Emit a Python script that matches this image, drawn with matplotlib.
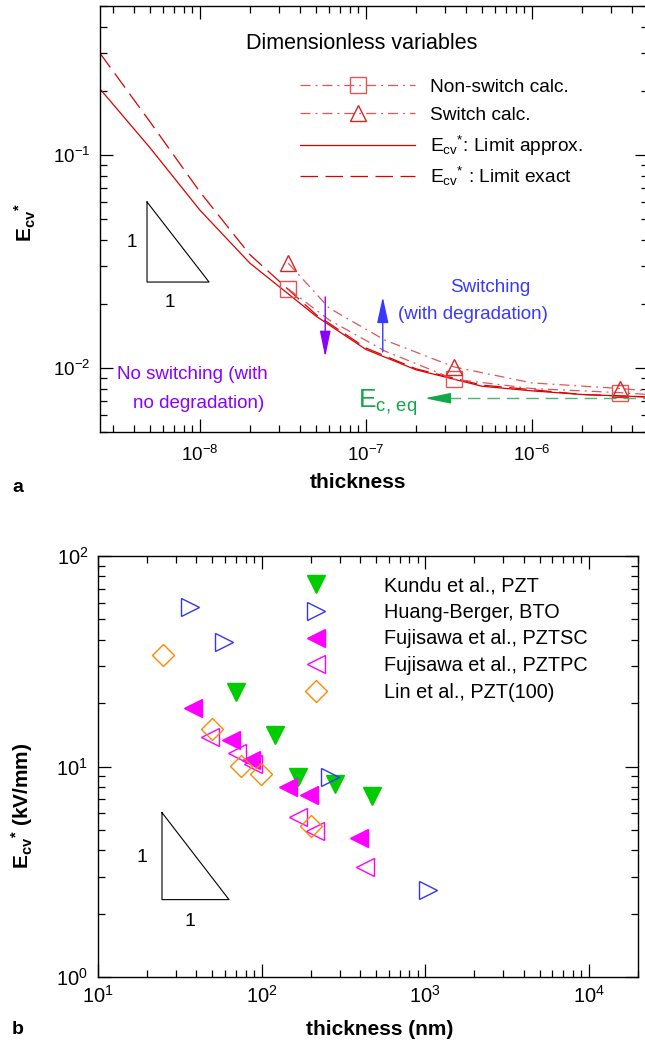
import matplotlib
matplotlib.use('Agg')
import matplotlib.pyplot as plt
from matplotlib.lines import Line2D
from matplotlib.legend import Legend
import matplotlib.ticker as mticker

plt.rcParams['font.family'] = ['Liberation Sans', 'DejaVu Sans']
plt.rcParams['mathtext.fontset'] = 'custom'
plt.rcParams['mathtext.rm'] = 'Liberation Sans'
plt.rcParams['mathtext.it'] = 'Liberation Sans:italic'
plt.rcParams['mathtext.bf'] = 'Liberation Sans:bold'
plt.rcParams['mathtext.default'] = 'regular'

# ---------------- data: panel a (dimensionless) ----------------
thick_model = [2.5e-9, 5e-9, 1e-8, 2e-8, 5e-8, 1e-7, 2e-7, 5e-7, 1e-6, 2e-6, 5e-6]
limit_approx = [0.204, 0.108, 0.055, 0.031, 0.0175, 0.0122, 0.0098, 0.0082, 0.0078, 0.0075, 0.0073]
limit_exact = [0.300, 0.143, 0.067, 0.034, 0.0178, 0.0124, 0.0099, 0.0083, 0.0079, 0.0075, 0.0073]

thick_calc = [3.4e-8, 6e-8, 1.3e-7, 3.4e-7, 1e-6, 3.4e-6, 5e-6]
nonswitch_calc = [0.0235, 0.0168, 0.0120, 0.00885, 0.0080, 0.00765, 0.0075]
switch_calc = [0.0310, 0.0191, 0.0135, 0.0101, 0.0085, 0.0080, 0.0078]
calc_marker_idx = [0, 3, 5]

ec_eq = 0.0072
ec_eq_arrow_x = [2.26e-7, 3.1e-7, 5e-6]

# ---------------- data: panel b (experiments) ----------------
kundu_t = [70, 120, 168, 280, 471]
kundu_e = [22.7, 14.1, 8.87, 8.3, 7.28]
huang_t = [36.5, 59.2, 261, 1040]
huang_e = [57.4, 39.1, 8.87, 2.60]
fsc_t = [38.2, 65, 85.7, 146, 195, 392]
fsc_e = [19.0, 13.3, 10.7, 8.0, 7.33, 4.59]
fpc_t = [48.6, 70.8, 89.2, 166, 212, 427]
fpc_e = [13.8, 11.6, 10.3, 5.73, 4.93, 3.32]
lin_t = [25.1, 50.1, 75, 99.6, 200]
lin_e = [33.9, 15.1, 10.1, 9.2, 5.24]

W, H = 645, 1047
fig = plt.figure(figsize=(W / 100, H / 100), dpi=100)


def px_axes(l, t, r, b):
    return [l / W, 1 - b / H, (r - l) / W, (b - t) / H]


def style_axes(ax, xpad, ypad, lsize):
    ax.tick_params(which='both', direction='in', top=True, right=True, width=0.9,
                   labelsize=lsize)
    ax.tick_params(which='major', length=9.5)
    ax.tick_params(which='minor', length=5)
    ax.tick_params(axis='x', pad=xpad)
    ax.tick_params(axis='y', pad=ypad)
    for s in ax.spines.values():
        s.set_linewidth(1.0)
    ax.xaxis.set_minor_formatter(mticker.NullFormatter())
    ax.yaxis.set_minor_formatter(mticker.NullFormatter())


red = '#dd0000'
red_light = '#e25555'
blue = '#3838ff'
purple = '#8a00ff'
green = '#10a848'
green_light = '#40bb70'

# ---------------- panel a ----------------
ax1 = fig.add_axes(px_axes(100, 6, 648, 432))
ax1.set_xscale('log')
ax1.set_yscale('log')
ax1.set_xlim(2.5e-9, 5e-6)
ax1.set_ylim(0.005, 0.5)
style_axes(ax1, 9, 7, 13.5)

dashdot = (8, 4, 1.5, 4)
ax1.plot(thick_model, limit_approx, color=red, lw=0.9)
ax1.plot(thick_model, limit_exact, color=red, lw=0.9, dashes=(14, 6))
ax1.plot(thick_calc, nonswitch_calc, color=red_light, lw=0.9, dashes=dashdot,
         marker='s', ms=12, mfc='none', mec=red_light, mew=1.0, markevery=calc_marker_idx)
ax1.plot(thick_calc, switch_calc, color=red_light, lw=0.9, dashes=dashdot,
         marker='^', ms=12, mfc='none', mec='#dd2222', mew=1.0, markevery=calc_marker_idx)

# E_c,eq arrow
ax1.plot(ec_eq_arrow_x[1:], [ec_eq, ec_eq], color=green_light, lw=1.0, dashes=(9, 5))
ax1.annotate('', xy=(ec_eq_arrow_x[0], ec_eq), xytext=(ec_eq_arrow_x[1], ec_eq),
             arrowprops=dict(arrowstyle='-|>,head_length=1.6,head_width=0.33',
                             color=green, lw=1.0, shrinkA=0, shrinkB=0))
ax1.text(0.471, 0.0563, r'E$_{\mathrm{c,\,eq}}$', transform=ax1.transAxes,
         color=green, fontsize=19, ha='left', va='baseline')

# switching annotations
ax1.annotate('', xy=(0.516, 0.317), xytext=(0.516, 0.188), xycoords='axes fraction',
             arrowprops=dict(arrowstyle='-|>,head_length=1.6,head_width=0.35',
                             color=blue, lw=1.0, shrinkA=0, shrinkB=0))
ax1.annotate('', xy=(0.411, 0.176), xytext=(0.411, 0.317), xycoords='axes fraction',
             arrowprops=dict(arrowstyle='-|>,head_length=1.6,head_width=0.33',
                             color=purple, lw=1.0, shrinkA=0, shrinkB=0))
ax1.text(0.713, 0.340, 'Switching', transform=ax1.transAxes, color=blue,
         fontsize=13.5, ha='center', va='center')
ax1.text(0.681, 0.275, '(with degradation)', transform=ax1.transAxes, color=blue,
         fontsize=13.5, ha='center', va='center')
ax1.text(0.031, 0.134, 'No switching (with', transform=ax1.transAxes, color=purple,
         fontsize=13.5, ha='left', va='center')
ax1.text(0.060, 0.066, 'no degradation)', transform=ax1.transAxes, color=purple,
         fontsize=13.5, ha='left', va='center')

# slope triangle
ax1.plot([0.0858, 0.0858, 0.199, 0.0858], [0.540, 0.352, 0.352, 0.540],
         transform=ax1.transAxes, color='black', lw=0.8)
ax1.text(0.058, 0.444, '1', transform=ax1.transAxes, fontsize=13.5, ha='center', va='center')
ax1.text(0.128, 0.305, '1', transform=ax1.transAxes, fontsize=13.5, ha='center', va='center')

# legend (one row per entry for exact row placement)
ax1.text(0.478, 0.911, 'Dimensionless variables', transform=ax1.transAxes,
         fontsize=15.5, ha='center', va='center')
h1 = [
    Line2D([], [], color=red_light, lw=0.9, dashes=dashdot, marker='s', ms=12,
           mfc='none', mec=red_light, mew=1.0),
    Line2D([], [], color=red_light, lw=0.9, dashes=dashdot, marker='^', ms=12,
           mfc='none', mec='#dd2222', mew=1.0),
    Line2D([], [], color=red, lw=0.9),
    Line2D([], [], color=red, lw=0.9, dashes=(14, 6)),
]
l1 = ['Non-switch calc.', 'Switch calc.',
      r'E$_{\mathrm{cv}}$$^{*}$: Limit approx.', r'E$_{\mathrm{cv}}$$^{*}$ : Limit exact']
row_y = [87, 115, 146, 176]
for h, l, y in zip(h1, l1, row_y):
    leg = Legend(ax1, [h], [l], loc='center left', bbox_to_anchor=(300 / W, 1 - y / H),
                 bbox_transform=fig.transFigure, frameon=False, fontsize=13.8,
                 handlelength=6.0, handletextpad=0.8,
                 borderpad=0, borderaxespad=0, numpoints=1)
    ax1.add_artist(leg)

ax1.set_xlabel('thickness', fontsize=15, fontweight='bold', va='top')
ax1.xaxis.set_label_coords(0.471, -0.096)
ax1.set_ylabel(r'$\mathbf{E}_{\mathbf{cv}}$$^{\mathbf{*}}$', fontsize=15,
               va='center', ha='center')
ax1.yaxis.set_label_coords(-0.137, 0.491)

# ---------------- panel b ----------------
ax2 = fig.add_axes(px_axes(98, 556, 638, 977))
ax2.set_xscale('log')
ax2.set_yscale('log')
ax2.set_xlim(10, 2e4)
ax2.set_ylim(1, 100)
style_axes(ax2, 6, 7, 14.5)

ms_t = 13
ax2.plot(kundu_t, kundu_e, ls='none', marker='v', ms=ms_t, color='#00cc00',
         label='Kundu et al., PZT')
ax2.plot(huang_t, huang_e, ls='none', marker='>', ms=ms_t, mfc='none', mec='#3333ff',
         mew=1.0, label='Huang-Berger, BTO')
ax2.plot(fsc_t, fsc_e, ls='none', marker='<', ms=ms_t, color='#ff00ff',
         label='Fujisawa et al., PZTSC')
ax2.plot(fpc_t, fpc_e, ls='none', marker='<', ms=ms_t, mfc='none', mec='#ff00ff',
         mew=1.0, label='Fujisawa et al., PZTPC')
ax2.plot(lin_t, lin_e, ls='none', marker='D', ms=11.5, mfc='none', mec='#ff8800',
         mew=1.0, label='Lin et al., PZT(100)')

ax2.legend(loc='upper left', bbox_to_anchor=(296 / W, 1 - 576 / H),
           bbox_transform=fig.transFigure, frameon=False, fontsize=14.3,
           handlelength=2.0, handletextpad=2.45, labelspacing=0.39,
           borderpad=0, borderaxespad=0, numpoints=1)

ax2.plot([0.1185, 0.1185, 0.2426, 0.1185], [0.3905, 0.1838, 0.1838, 0.3905],
         transform=ax2.transAxes, color='black', lw=0.8)
ax2.text(0.0815, 0.285, '1', transform=ax2.transAxes, fontsize=14, ha='center', va='center')
ax2.text(0.170, 0.131, '1', transform=ax2.transAxes, fontsize=14, ha='center', va='center')

ax2.set_xlabel('thickness (nm)', fontsize=15, fontweight='bold', va='top')
ax2.xaxis.set_label_coords(0.522, -0.102)
ax2.set_ylabel(r'$\mathbf{E}_{\mathbf{cv}}$$^{\mathbf{*}}$ (kV/mm)', fontsize=15,
               fontweight='bold', va='center', ha='center')
ax2.yaxis.set_label_coords(-0.141, 0.406)

fig.text(12 / W, 1 - 488 / H, 'a', fontsize=14, fontweight='bold', ha='left', va='center')
fig.text(12 / W, 1 - 1030 / H, 'b', fontsize=14, fontweight='bold', ha='left', va='center')

fig.savefig('out.png', dpi=100)
